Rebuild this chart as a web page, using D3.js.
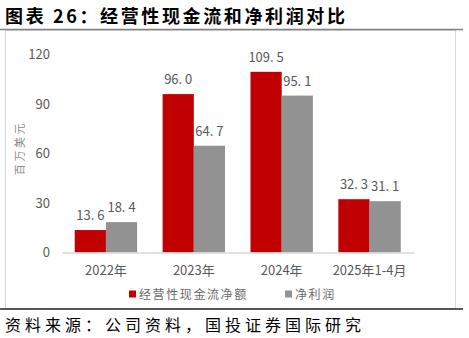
<!DOCTYPE html>
<html><head><meta charset="utf-8">
<script src="https://cdn.jsdelivr.net/npm/d3@7"></script>
<style>body{margin:0;background:#fff}svg{display:block}</style>
</head><body>
<script>
const categories = ["2022年","2023年","2024年","2025年1-4月"];
const seriesNames = ["经营性现金流净额","净利润"];
const cashFlow = [13.6, 96.0, 109.5, 32.3];
const netProfit = [18.4, 64.7, 95.1, 31.1];
const yTicks = [0,30,60,90,120];
const colors = ["#C00000","#929292"];

const W=469,H=338;
const svg=d3.select("body").append("svg").attr("width",W).attr("height",H);
const font="'Noto Sans CJK SC','Noto Sans',sans-serif";

// title
svg.append("text").attr("x",5).attr("y",23).attr("font-family",font).attr("font-weight","bold")
  .attr("font-size",18).attr("fill","#000").attr("textLength",340).attr("lengthAdjust","spacing")
  .text("图表 26：经营性现金流和净利润对比");
// frame lines
svg.append("rect").attr("x",5.5).attr("y",30.5).attr("width",450).attr("height",278).attr("fill","none").attr("stroke","#d9d9d9");
svg.append("line").attr("x1",0).attr("x2",463).attr("y1",29.5).attr("y2",29.5).attr("stroke","#7f7f7f").attr("stroke-width",1.5);
svg.append("line").attr("x1",0).attr("x2",463).attr("y1",309).attr("y2",309).attr("stroke","#262626").attr("stroke-width",1.5);

const x=d3.scaleBand().domain(categories).range([62,413.5]).paddingInner(0.29).paddingOuter(0.145);
const x1=d3.scaleBand().domain(seriesNames).range([0,x.bandwidth()]);
const y=d3.scaleLinear().domain([0,120]).range([252.5,54.5]);

// y axis
const ya=svg.append("g").attr("transform","translate(62,0)").call(d3.axisLeft(y).tickValues(yTicks).tickSize(0).tickPadding(12));
ya.select(".domain").remove();
ya.selectAll("text").attr("font-family",font).attr("font-size",13).attr("fill","#595959");

// bars
const data=categories.map((c,i)=>({c,vals:[cashFlow[i],netProfit[i]]}));
const g=svg.append("g");
data.forEach(d=>{
  d.vals.forEach((v,j)=>{
    g.append("rect").attr("x",x(d.c)+x1(seriesNames[j])).attr("y",y(v))
      .attr("width",x1.bandwidth()).attr("height",y(0)-y(v)).attr("fill",colors[j]);
    g.append("text").attr("x",x(d.c)+x1(seriesNames[j])+x1.bandwidth()/2).attr("y",y(v)-10)
      .attr("text-anchor","middle").attr("font-family",font).attr("font-size",13).attr("fill","#595959")
      .text(d3.format(".1f")(v).replace(".",". "));
  });
});

// x axis
const xa=svg.append("g").attr("transform","translate(0,252.5)").call(d3.axisBottom(x).tickSize(0).tickPadding(13));
xa.select(".domain").attr("stroke","#d9d9d9").attr("stroke-width",1.5);
xa.selectAll("text").attr("font-family",font).attr("font-size",13).attr("fill","#595959");

// y label
svg.append("text").attr("transform","translate(24,148) rotate(-90)").attr("text-anchor","middle")
  .attr("font-family",font).attr("font-size",11).attr("fill","#8c8c8c")
  .attr("letter-spacing",2.6).text("百万美元");

// legend
const legX=[129,285];
seriesNames.forEach((n,j)=>{
  svg.append("rect").attr("x",legX[j]).attr("y",290.5).attr("width",7).attr("height",7).attr("fill",colors[j]);
  svg.append("text").attr("x",legX[j]+10).attr("y",298.5).attr("font-family",font).attr("font-size",12)
    .attr("fill","#6b6b6b").attr("letter-spacing",1.6).text(n);
});

// source
svg.append("text").attr("x",5).attr("y",331).attr("font-family",font).attr("font-size",16).attr("fill","#000")
  .attr("textLength",356).attr("lengthAdjust","spacing").text("资料来源：公司资料，国投证券国际研究");
</script>
</body></html>
